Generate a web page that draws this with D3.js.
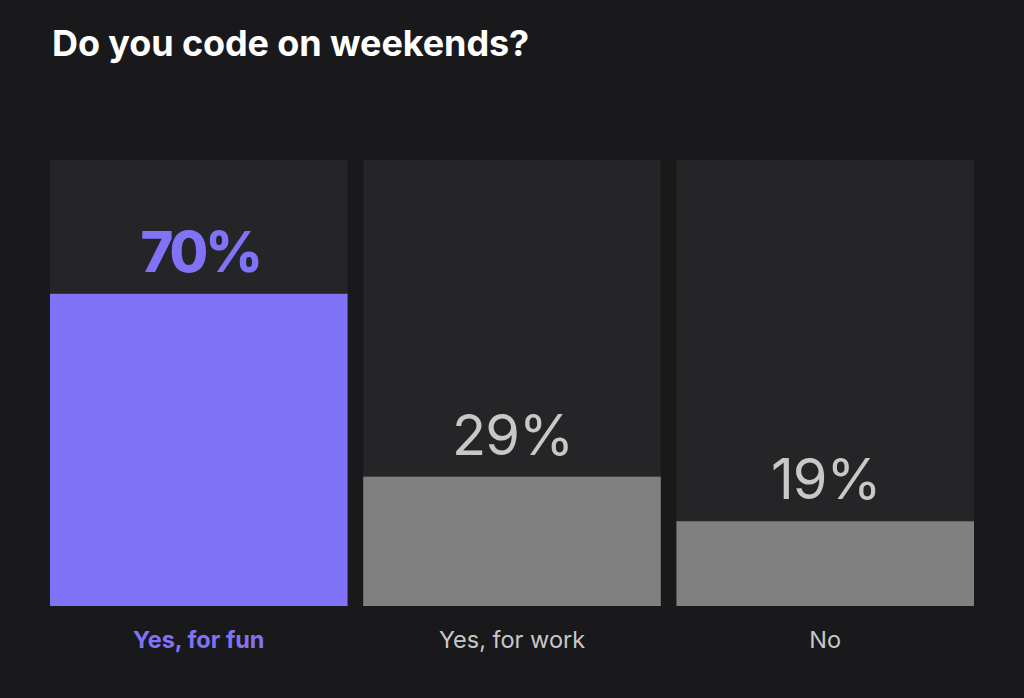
<!DOCTYPE html>
<html>
<head>
<meta charset="utf-8">
<script src="https://cdn.jsdelivr.net/npm/d3@7"></script>
<style>
    body { margin: 0; background: #19191b; }
    svg { display: block; font-family: Inter, "Noto Sans", sans-serif; }
</style>
</head>
<body>
<div id="chart"></div>
<script>
// data
const categories = ["Yes, for fun", "Yes, for work", "No"];
const values = [70, 29, 19];
const highlight = [true, false, false];

const width = 1024, height = 698;
const margin = {top: 160, right: 50, bottom: 92, left: 50};

const svg = d3.select("#chart").append("svg")
    .attr("width", width)
    .attr("height", height);

svg.append("rect")
    .attr("width", width)
    .attr("height", height)
    .attr("fill", "#19191b");

// title
svg.append("text")
    .attr("x", 52)
    .attr("y", 56)
    .attr("fill", "#ffffff")
    .attr("font-size", 36)
    .attr("font-weight", 700)
    .attr("letter-spacing", -0.1)
    .text("Do you code on weekends?");

const x = d3.scaleBand()
    .domain(categories)
    .range([margin.left, width - margin.right])
    .paddingInner(0.05)
    .paddingOuter(0);

const y = d3.scaleLinear()
    .domain([0, 100])
    .range([height - margin.bottom, margin.top]);

const cols = svg.append("g")
    .selectAll("g")
    .data(categories)
    .enter().append("g");

// background track
cols.append("rect")
    .attr("x", d => x(d))
    .attr("y", y(100))
    .attr("width", x.bandwidth())
    .attr("height", y(0) - y(100))
    .attr("fill", "#252527");

// bar
cols.append("rect")
    .attr("x", d => x(d))
    .attr("y", (d, i) => y(values[i]))
    .attr("width", x.bandwidth())
    .attr("height", (d, i) => y(0) - y(values[i]))
    .attr("fill", (d, i) => highlight[i] ? "#8073f7" : "#808080");

// value labels
cols.append("text")
    .attr("x", (d, i) => x(d) + x.bandwidth() / 2 + (highlight[i] ? 1.5 : 0.5))
    .attr("y", (d, i) => y(values[i]) - 22)
    .attr("text-anchor", "middle")
    .attr("font-size", 56)
    .attr("font-weight", (d, i) => highlight[i] ? 800 : 400)
    .attr("letter-spacing", (d, i) => highlight[i] ? -3 : -1)
    .attr("fill", (d, i) => highlight[i] ? "#8073f7" : "#c8c8c8")
    .text((d, i) => values[i] + "%");

// category labels
cols.append("text")
    .attr("x", d => x(d) + x.bandwidth() / 2)
    .attr("y", 648)
    .attr("text-anchor", "middle")
    .attr("font-size", 23.5)
    .attr("font-weight", (d, i) => highlight[i] ? 700 : 400)
    .attr("fill", (d, i) => highlight[i] ? "#8073f7" : "#c8c8c8")
    .text(d => d);
</script>
</body>
</html>
